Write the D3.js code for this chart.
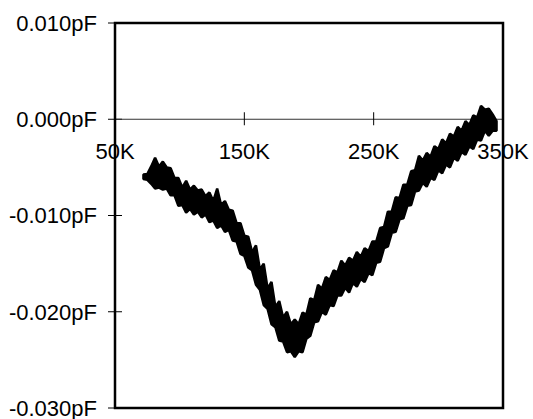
<!DOCTYPE html>
<html>
<head>
<meta charset="utf-8">
<script src="https://cdn.jsdelivr.net/npm/d3@7"></script>
<style>
body { margin: 0; background: #fff; }
text { font-family: "Liberation Sans", Arial, sans-serif; fill: #000; }
</style>
</head>
<body>
<script>
var w = 533;
var h = 419;
var margin = { top: 23, right: 30, bottom: 10, left: 115 };

// temperature (K)
var temps = [72, 75, 78, 81, 84, 87, 90, 93, 96, 99, 102, 105, 108, 111, 114, 117, 120, 123, 126, 129,
    132, 135, 138, 141, 144, 147, 150, 153, 156, 159, 162, 165, 168, 171, 174, 177, 180, 183, 186, 189,
    192, 195, 198, 201, 204, 207, 210, 213, 216, 219, 222, 225, 228, 231, 234, 237, 240, 243, 246, 249,
    252, 255, 258, 261, 264, 267, 270, 273, 276, 279, 282, 285, 288, 291, 294, 297, 300, 303, 306, 309,
    312, 315, 318, 321, 324, 327, 330, 333, 336, 339, 342, 345];

// top and bottom of the noisy trace (units of 0.001 pF)
var upper = [-5.75, -5.7, -4.9, -4.0, -4.9, -4.4, -5.0, -5.1, -6.1, -6.1, -7.1, -6.4, -7.3, -6.9, -7.4, -7.3, -8.0, -7.6, -8.5, -7.2,
    -8.9, -8.5, -9.4, -9.5, -10.8, -10.8, -12.1, -12.2, -13.8, -13.1, -15.6, -15.0, -17.6, -16.9, -19.5, -18.9, -20.6, -20.0, -21.3, -20.8,
    -21.3, -20.1, -20.3, -18.6, -18.8, -17.2, -17.6, -16.4, -16.7, -15.7, -15.9, -14.7, -15.2, -14.4, -14.7, -13.8, -14.3, -13.4, -13.7, -12.7,
    -12.7, -11.3, -11.2, -9.6, -9.6, -8.1, -8.2, -6.8, -6.8, -5.4, -5.3, -3.8, -4.3, -3.5, -3.9, -2.8, -3.1, -2.1, -2.5, -1.5,
    -1.8, -0.8, -1.2, -0.2, -0.6, 0.4, 0.2, 1.4, 1.0, 1.1, 0.5, -0.2];
var lower = [-6.2, -6.3, -6.7, -7.2, -7.1, -7.3, -7.2, -7.9, -7.9, -9.0, -8.9, -9.7, -9.3, -9.9, -9.6, -10.2, -9.9, -10.7, -10.5, -11.3,
    -11.0, -11.7, -11.5, -12.6, -12.7, -14.0, -14.2, -15.4, -15.7, -17.2, -17.7, -19.3, -19.7, -21.3, -21.6, -23.0, -23.1, -24.2, -24.1, -24.7,
    -24.1, -24.2, -22.8, -22.5, -21.1, -21.0, -20.0, -20.3, -19.3, -19.4, -18.3, -18.3, -17.5, -18.0, -17.0, -17.4, -16.6, -16.9, -16.0, -16.2,
    -14.9, -14.8, -13.4, -13.2, -11.8, -11.7, -10.4, -10.3, -9.0, -8.9, -7.5, -7.4, -6.6, -7.0, -6.1, -6.3, -5.3, -5.6, -4.7, -5.0,
    -4.0, -4.3, -3.4, -3.7, -2.8, -3.1, -2.1, -2.2, -1.2, -1.7, -1.2, -1.2];

var xTicks = [50, 150, 250, 350];
var yTicks = [0.010, 0.000, -0.010, -0.020, -0.030];

var data = temps.map(function (t, i) {
    return { t: t, hi: upper[i] / 1000, lo: lower[i] / 1000 };
});

var pw = w - margin.left - margin.right;
var ph = h - margin.top - margin.bottom - 1;

var svg = d3.select("body")
    .append("svg")
    .attr("width", w)
    .attr("height", h)
    .append("g")
    .attr("transform", "translate(" + margin.left + "," + margin.top + ")");

var xScale = d3.scaleLinear()
    .domain([50, 350])
    .range([0, pw]);

var yScale = d3.scaleLinear()
    .domain([-0.030, 0.010])
    .range([ph, 0]);

// y tick labels
svg.selectAll(".ylab")
    .data(yTicks)
    .enter()
    .append("text")
    .attr("class", "ylab")
    .attr("x", -18)
    .attr("y", function (d) { return yScale(d); })
    .attr("dy", "0.36em")
    .attr("text-anchor", "end")
    .style("font-size", "22px")
    .text(function (d) { return d.toFixed(3) + "pF"; });

// y tick marks
svg.selectAll(".ytick")
    .data(yTicks)
    .enter()
    .append("line")
    .attr("x1", -7)
    .attr("x2", 7)
    .attr("y1", function (d) { return yScale(d); })
    .attr("y2", function (d) { return yScale(d); })
    .attr("stroke", "#000")
    .attr("stroke-width", 1);

// x tick labels sit just under the zero line
svg.selectAll(".xlab")
    .data(xTicks)
    .enter()
    .append("text")
    .attr("class", "xlab")
    .attr("x", function (d) { return xScale(d); })
    .attr("y", yScale(0) + 40)
    .attr("text-anchor", "middle")
    .style("font-size", "22px")
    .text(function (d) { return d + "K"; });

// zero line with crossing ticks
svg.append("line")
    .attr("x1", 0)
    .attr("x2", pw)
    .attr("y1", yScale(0))
    .attr("y2", yScale(0))
    .attr("stroke", "#333")
    .attr("stroke-width", 1);

svg.selectAll(".xtick")
    .data(xTicks)
    .enter()
    .append("line")
    .attr("x1", function (d) { return xScale(d); })
    .attr("x2", function (d) { return xScale(d); })
    .attr("y1", yScale(0) - 7)
    .attr("y2", yScale(0) + 6)
    .attr("stroke", "#000")
    .attr("stroke-width", 1);

// noisy trace drawn as a filled band
var band = d3.area()
    .x(function (d) { return xScale(d.t); })
    .y0(function (d) { return yScale(d.lo); })
    .y1(function (d) { return yScale(d.hi); });

svg.append("path")
    .datum(data)
    .attr("d", band)
    .attr("fill", "#000")
    .attr("stroke", "#000")
    .attr("stroke-width", 2.5)
    .attr("stroke-linejoin", "bevel");

// frame
svg.append("rect")
    .attr("x", 0)
    .attr("y", 0)
    .attr("width", pw)
    .attr("height", ph)
    .attr("fill", "none")
    .attr("stroke", "#000")
    .attr("stroke-width", 2.5);
</script>
</body>
</html>
